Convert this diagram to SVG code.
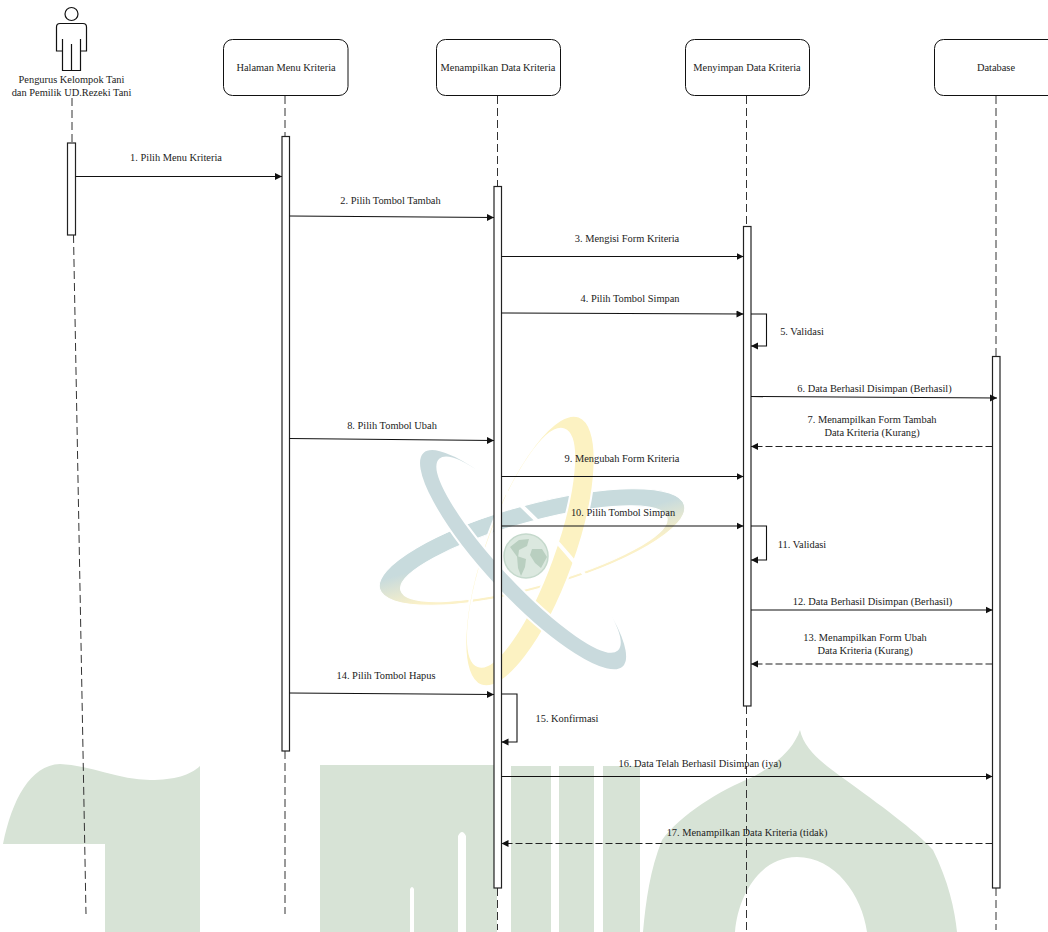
<svg xmlns="http://www.w3.org/2000/svg" width="1048" height="932" viewBox="0 0 1048 932">
<style>
text{font-family:"Liberation Serif","Times New Roman",serif;font-size:10.4px;fill:#222;text-anchor:middle}
.life{fill:none;stroke:#333;stroke-width:1;stroke-dasharray:8 4}
.box{fill:#fff;stroke:#111;stroke-width:1}
.act{fill:#fff;stroke:#222;stroke-width:1.2}
.msg{fill:none;stroke:#111;stroke-width:1.1;marker-end:url(#arr)}
.ret{fill:none;stroke:#222;stroke-width:1.1;stroke-dasharray:7 3;marker-end:url(#arr)}
.wm{fill:#d7e3d6}
</style>
<defs>
<marker id="arr" markerUnits="userSpaceOnUse" markerWidth="8" markerHeight="8" refX="7" refY="4" orient="auto"><path d="M0 0.500L7 4L0 7.500Z" fill="#111"/></marker>
<linearGradient id="g2" x1="0" y1="0" x2="0" y2="1"><stop offset="0.4" stop-color="#c8dbdd"/><stop offset="0.8" stop-color="#fbf1c8"/></linearGradient>
</defs>
<rect width="1048" height="932" fill="#fff"/>
<g id="watermark">
<path class="wm" d="M3 844C12 800 30 765 60 764C90 765 120 780 150 780C175 780 190 775 200 766V932H105V844Z"/>
<path class="wm" fill-rule="evenodd" d="M320 765H497V932H320ZM458 836Q462 828 466 836V932H458ZM410 889Q412 885 414 889V932H410Z"/>
<rect class="wm" x="511" y="766" width="40" height="166"/>
<rect class="wm" x="559" y="766" width="35" height="166"/>
<rect class="wm" x="603" y="766" width="37" height="166"/>
<path class="wm" fill-rule="evenodd" d="M800 730C804 750 825 765 843 778C880 805 915 830 933 850C948 880 955 910 957 932H643C646 900 650 870 662 840C680 815 720 790 753 777C775 765 793 750 800 730ZM735 932C738 895 760 857 797 857C835 857 862 895 867 932Z"/>
<g id="atom">
<g transform="rotate(-15.4 532 547)"><path fill="url(#g2)" stroke="#fff" stroke-width="1" fill-rule="evenodd" d="M374 547a158 42 0 1 0 316 0a158 42 0 1 0 -316 0ZM394 554a138 32 0 1 0 276 0a138 32 0 1 0 -276 0Z"/></g>
<g transform="rotate(20 530 551)"><path fill="#fcf2c2" stroke="#fff" stroke-width="2" fill-rule="evenodd" d="M485 551a45 143 0 1 0 90 0a45 143 0 1 0 -90 0ZM487.500 551a33 126 0 1 0 66 0a33 126 0 1 0 -66 0Z"/></g>
<g transform="rotate(47 526 557)"><path fill="#c9dadd" stroke="#fff" stroke-width="2" fill-rule="evenodd" d="M379 561a147 38 0 1 0 294 0a147 38 0 1 0 -294 0ZM396 553.500a130 28.500 0 1 0 260 0a130 28.500 0 1 0 -260 0Z"/></g>
<circle cx="526" cy="556" r="22" fill="#dbe8df" stroke="#c5d9cc" stroke-width="1.500"/>
<path d="M510 547l9-7 10-1-2 7-8 4-1 8zM517 556l9 3-1 8-4 9-3-8zM532 549l10 0 5 8-6 11-6-5-5-8z" fill="#b9cfc0"/>
</g>
</g>
<g id="connectors">
<path class="life" d="M72 98V143M73.500 235L86 914"/>
<path class="life" d="M285 96V136M285 751V914"/>
<path class="life" d="M497.500 96V186M497.500 888V930"/>
<path class="life" d="M746.500 96V226M746.500 706V932"/>
<path class="life" d="M996 96V356M996 888V930"/>
</g>
<g id="actor" fill="none" stroke="#111" stroke-width="1.200">
<circle cx="71.500" cy="14" r="6.500"/>
<path d="M60 23.500H83Q86.500 23.500 86.500 27V51H80.500V70.500H62.500V51H56.500V27Q56.500 23.500 60 23.500ZM62.500 39V51M80.500 39V51M71.500 44V70.500"/>
</g>
<text x="71.500" y="83">Pengurus Kelompok Tani</text>
<text x="71.500" y="96">dan Pemilik UD.Rezeki Tani</text>
<g id="n1"><rect class="box" x="223.500" y="39.500" width="124.500" height="56" rx="9"/><text x="286" y="70.500">Halaman Menu Kriteria</text></g>
<g id="n2"><rect class="box" x="436.500" y="39.500" width="124" height="56" rx="9"/><text x="498" y="70.500">Menampilkan Data Kriteria</text></g>
<g id="n3"><rect class="box" x="685.500" y="39.500" width="124" height="56" rx="9"/><text x="747" y="70.500">Menyimpan Data Kriteria</text></g>
<g id="n4"><rect class="box" x="934.500" y="39.500" width="124" height="56" rx="9"/><text x="996" y="70.500">Database</text></g>
<g id="activations">
<rect class="act" x="67.500" y="143" width="8" height="92"/>
<rect class="act" x="282" y="136.500" width="7.500" height="614.500"/>
<rect class="act" x="494" y="186.500" width="7.500" height="701.500"/>
<rect class="act" x="743.500" y="226.500" width="7.500" height="479.500"/>
<rect class="act" x="992.500" y="356.500" width="7.500" height="531.500"/>
</g>
<g id="messages">
<path class="msg" d="M75.500 176.500H282"/>
<path class="msg" d="M289.500 216L494 217.500"/>
<path class="msg" d="M501.500 256.500H743.500"/>
<path class="msg" d="M501.500 313L743.500 314"/>
<path class="msg" d="M751 314H766.500V346H751"/>
<path class="msg" d="M751 396.500L997 398"/>
<path class="ret" d="M992.500 446.500H751"/>
<path class="msg" d="M289.500 438.500L494 440.500"/>
<path class="msg" d="M501.500 476.500H743.500"/>
<path class="msg" d="M501.500 526H743.500"/>
<path class="msg" d="M751 526H766.500V560H751"/>
<path class="msg" d="M751 610H992.500"/>
<path class="ret" d="M992.500 664H751"/>
<path class="msg" d="M289.500 693L494 694.500"/>
<path class="msg" d="M501.500 694H517V742H501.500"/>
<path class="msg" d="M501.500 776.500H992.500"/>
<path class="ret" d="M992.500 843.500H501.500"/>
</g>
<g id="labels">
<text x="176" y="161">1. Pilih Menu Kriteria</text>
<text x="390.500" y="204">2. Pilih Tombol Tambah</text>
<text x="627" y="242">3. Mengisi Form Kriteria</text>
<text x="630" y="302">4. Pilih Tombol Simpan</text>
<text x="802" y="335">5. Validasi</text>
<text x="874.500" y="392">6. Data Berhasil Disimpan (Berhasil)</text>
<text x="872" y="423">7. Menampilkan Form Tambah</text>
<text x="872" y="436">Data Kriteria (Kurang)</text>
<text x="392" y="429">8. Pilih Tombol Ubah</text>
<text x="622" y="462">9. Mengubah Form Kriteria</text>
<text x="623" y="516">10. Pilih Tombol Simpan</text>
<text x="802" y="548">11. Validasi</text>
<text x="872.500" y="605">12. Data Berhasil Disimpan (Berhasil)</text>
<text x="865" y="641">13. Menampilkan Form Ubah</text>
<text x="865" y="654">Data Kriteria (Kurang)</text>
<text x="386" y="679">14. Pilih Tombol Hapus</text>
<text x="567" y="722">15. Konfirmasi</text>
<text x="700" y="767">16. Data Telah Berhasil Disimpan (iya)</text>
<text x="747" y="836">17. Menampilkan Data Kriteria (tidak)</text>
</g>
</svg>
